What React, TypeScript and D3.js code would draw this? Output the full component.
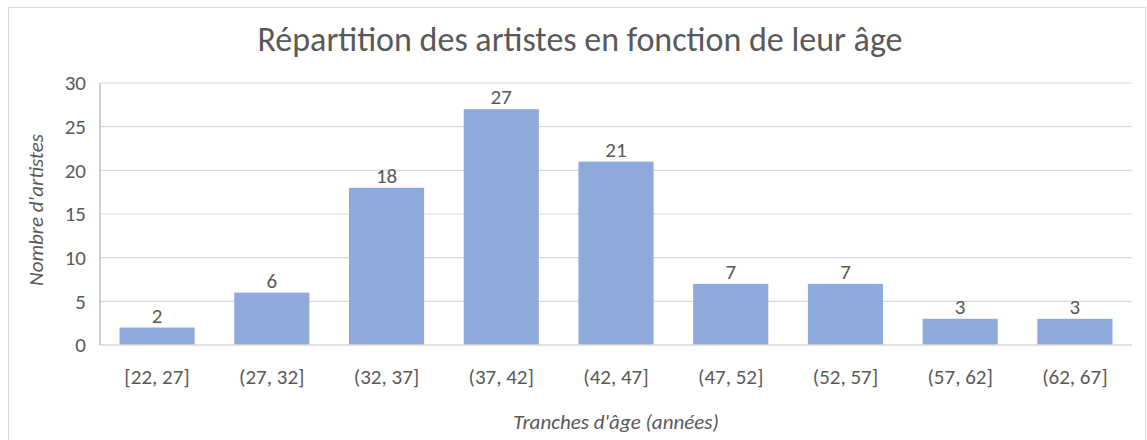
import React from 'react';
import * as d3 from 'd3';

// age brackets and artist counts
const categories = ['[22, 27]', '(27, 32]', '(32, 37]', '(37, 42]', '(42, 47]', '(47, 52]', '(52, 57]', '(57, 62]', '(62, 67]'];
const counts = [2, 6, 18, 27, 21, 7, 7, 3, 3];
const yTicks = [0, 5, 10, 15, 20, 25, 30];

const W = 1147;
const H = 440;
const FONT = "Carlito, Calibri, 'Open Sans', sans-serif";
const TEXT = '#595959';

export default function App() {
  const margin = { top: 83, right: 15, bottom: 95, left: 100 };
  const plotW = W - margin.left - margin.right;
  const plotH = H - margin.top - margin.bottom;

  const x = d3.scaleBand().domain(categories).range([0, plotW]).paddingInner(0.345).paddingOuter(0.17);
  const y = d3.scaleLinear().domain([0, 30]).range([plotH, 0]);

  return (
    <svg width={W} height={H} style={{ position: 'absolute', left: 0, top: 0, background: '#fff' }}>
      <rect x={8.5} y={7.5} width={W - 10} height={H} fill="#fff" stroke="#d9d9d9" />
      <text x={580} y={51} textAnchor="middle" fontFamily={FONT} fontSize={34} fill={TEXT}>
        Répartition des artistes en fonction de leur âge
      </text>
      <g transform={`translate(${margin.left},${margin.top})`}>
        {yTicks.map((t) => (
          <g key={t}>
            {t > 0 && <line x1={0} x2={plotW} y1={y(t)} y2={y(t)} stroke="#d9d9d9" strokeWidth={1.2} />}
            <text x={-14} y={y(t)} dy="0.35em" textAnchor="end" fontFamily={FONT} fontSize={21} fill={TEXT}>
              {t}
            </text>
          </g>
        ))}
        {categories.map((c, i) => (
          <g key={c}>
            <rect x={x(c)} y={y(counts[i])} width={x.bandwidth()} height={plotH - y(counts[i])} fill="#8eaadb" />
            <text x={x(c)! + x.bandwidth() / 2} y={y(counts[i]) - 5} textAnchor="middle" fontFamily={FONT} fontSize={21} fill={TEXT}>
              {counts[i]}
            </text>
            <text x={x(c)! + x.bandwidth() / 2} y={plotH + 39} textAnchor="middle" fontFamily={FONT} fontSize={21} fill={TEXT}>
              {c}
            </text>
          </g>
        ))}
        <line x1={0} x2={plotW} y1={plotH} y2={plotH} stroke="#d9d9d9" strokeWidth={1.5} />
        <line x1={0} x2={0} y1={0} y2={plotH} stroke="#bfbfbf" strokeWidth={1.5} />
        <text x={plotW / 2} y={plotH + 84} textAnchor="middle" fontFamily={FONT} fontStyle="italic" fontSize={21} fill={TEXT}>
          Tranches d'âge (années)
        </text>
        <text transform={`translate(${-57},${plotH / 2 - 4}) rotate(-90)`} textAnchor="middle" fontFamily={FONT} fontStyle="italic" fontSize={21} fill={TEXT}>
          Nombre d'artistes
        </text>
      </g>
    </svg>
  );
}
